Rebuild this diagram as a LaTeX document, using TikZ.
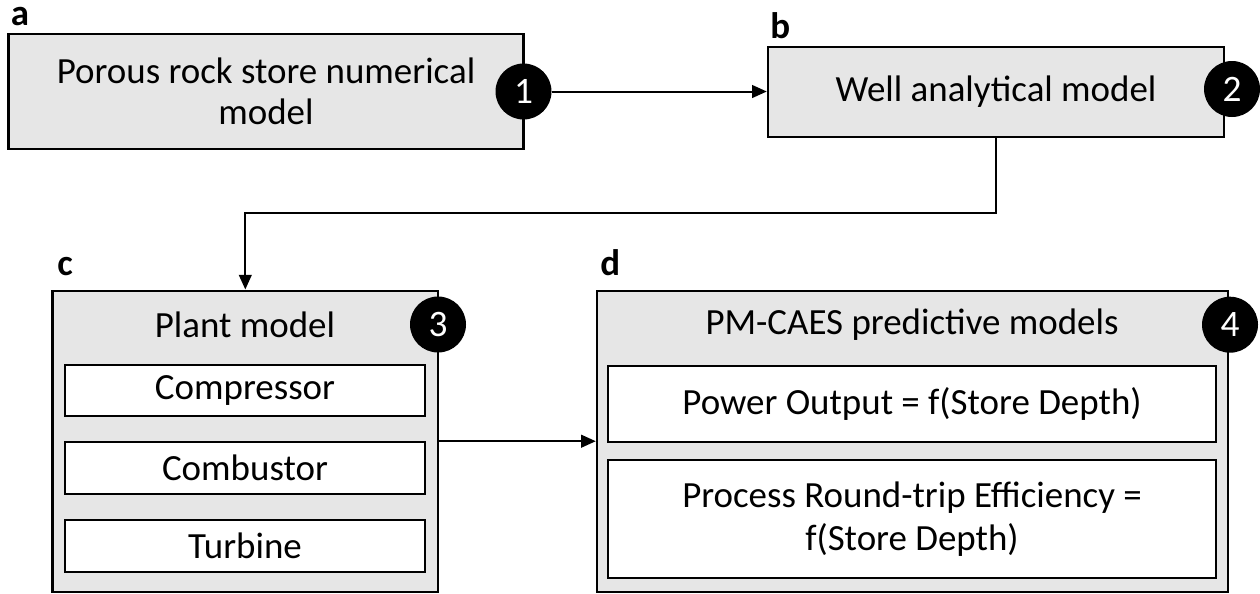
\documentclass[tikz,border=0pt]{standalone}
\usepackage{fontspec}
\setmainfont{Carlito}
\usetikzlibrary{arrows.meta}
\definecolor{boxgray}{RGB}{230,230,230}
\begin{document}
\begin{tikzpicture}[x=0.75pt,y=-0.75pt,
  txt/.style={font=\fontsize{27.7}{31}\selectfont, align=center, inner sep=0pt},
  graybox/.style={draw=black, line width=1.8pt, fill=boxgray, inner sep=0pt, align=center, font=\fontsize{27.7}{31}\selectfont},
  whitebox/.style={draw=black, line width=1.8pt, fill=white, inner sep=0pt, align=center, font=\fontsize{27.7}{32}\selectfont},
  num/.style={circle, fill=black, text=white, minimum size=42pt, inner sep=0pt, font=\fontsize{28}{30}\selectfont},
  lbl/.style={font=\fontsize{27.7}{31}\selectfont\bfseries, anchor=base west, inner sep=0pt},
  conn/.style={line width=1.5pt, -{Triangle[length=11pt,width=9.5pt]}},
]
\useasboundingbox (0,0) rectangle (1260,593);

% main boxes
\node[graybox, minimum width=386.25pt, minimum height=86.25pt] (a) at (266,91.5) {Porous rock store numerical\\model};
\node[graybox, minimum width=342pt, minimum height=67.5pt] (b) at (996,92) {Well analytical model};
\node[graybox, minimum width=289.1pt, minimum height=225.75pt] (c) at (245.3,441.2) {};
\node[graybox, minimum width=473.25pt, minimum height=225.75pt] (d) at (912.5,441.2) {};

% titles
\node[txt] (ct) at (245,325) {Plant model};
\node[txt] (dt) at (912,325) {PM-CAES predictive models};

% inner boxes
\node[whitebox, minimum width=270pt, minimum height=38.6pt] (comp) at (245,390.5) {Compressor};
\node[whitebox, minimum width=270pt, minimum height=38.6pt] (comb) at (245,468) {Combustor};
\node[whitebox, minimum width=270pt, minimum height=38.6pt] (turb) at (245,546) {Turbine};
\node[whitebox, minimum width=456pt, minimum height=57pt] (pow) at (912,403.7) {Power Output = f(Store Depth)};
\node[whitebox, minimum width=456pt, minimum height=88.5pt] (eff) at (912,519) {Process Round-trip Efficiency =\\f(Store Depth)};

% panel labels
\node[lbl] (la) at (10.7,25) {a};
\node[lbl] (lb) at (770,38) {b};
\node[lbl] (lc) at (57,275) {c};
\node[lbl] (ld) at (600,275) {d};

% numbered circles
\node[num] (n1) at (523.5,91.5) {1};
\node[num] (n2) at (1232,89) {2};
\node[num] (n3) at (438,324.5) {3};
\node[num] (n4) at (1230,324.7) {4};

% connectors
\coordinate (bend) at (0,213);
\draw[conn] (n1.east) -- (n1.east -| b.west);
\draw[conn] (b.south) -- (b.south |- bend) -| (c.north);
\draw[conn] (c.east) -- (d.west);
\end{tikzpicture}
\end{document}
